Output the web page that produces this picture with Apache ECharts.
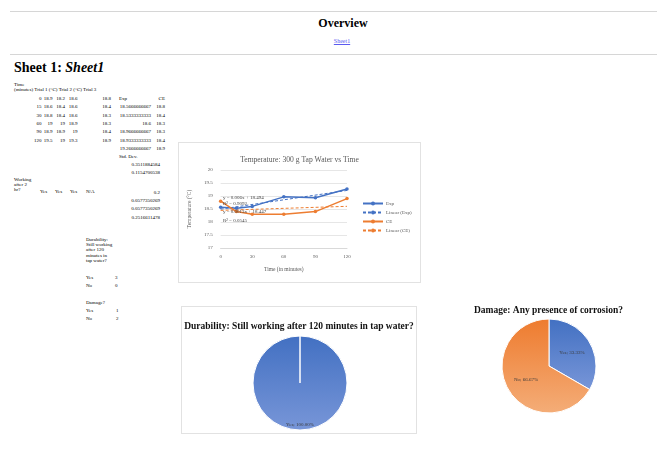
<!DOCTYPE html>
<html>
<head>
<meta charset="utf-8">
<title>Overview</title>
<script src="https://cdn.jsdelivr.net/npm/echarts@6/dist/echarts.min.js"></script>
<style>
  html, body { margin: 0; padding: 0; background: #fff; }
  body {
    width: 657px; height: 466px; position: relative; overflow: hidden;
    font-family: "Liberation Serif", "DejaVu Serif", serif; color: #000;
  }
  .rule { position: absolute; left: 10px; right: 0; height: 0; border-top: 1px solid #d6d6d6; }
  .heading { position: absolute; font-weight: bold; white-space: nowrap; }
  .t { position: absolute; font-size: 5px; line-height: 5px; white-space: nowrap; }
  .r { transform: translateX(-100%); }
  .wrap { position: absolute; font-size: 5px; line-height: 5.2px; white-space: normal; }
  .box { position: absolute; box-sizing: border-box; border: 1px solid #e2e2e2; background: #fff; }
  a.sheet { position: absolute; font-size: 6px; color: #5b5bf0; text-decoration: underline; transform: translateX(-50%); white-space: nowrap; }
</style>
</head>
<body>
<div class="rule" style="top:11px"></div>
<div class="heading" id="overview" style="left:343px; top:16px; font-size:12px; transform:translateX(-50%);"></div>
<a class="sheet" id="sheetLink" href="#sheet1" style="left:342px; top:38px;"></a>
<div class="rule" style="top:54px"></div>
<div class="heading" id="sheetTitle" style="left:14px; top:60px; font-size:14px;"></div>
<div id="sheet"></div>

<div class="box" id="lineBox" style="left:178px; top:142px; width:243px; height:141px;"></div>
<div class="box" id="pieDurability" style="left:181px; top:306px; width:236px; height:128px;"></div>
<div id="pieDamage" style="position:absolute; left:440px; top:290px; width:217px; height:150px;"></div>

<script>
// ---- worksheet data ----
const timeMin   = [0, 15, 30, 60, 90, 120];
const trial1    = [18.9, 18.6, 18.8, 19, 18.9, 19.5];
const trial2    = [18.2, 18.4, 18.4, 19, 18.9, 19];
const trial3    = [18.6, 18.6, 18.6, 18.9, 19, 19.3];
const ceTemp    = [18.8, 18.4, 18.3, 18.3, 18.4, 18.9];
const expMean   = [18.5666666667, 18.5333333333, 18.6, 18.9666666667, 18.9333333333, 19.2666666667];
const expStdDev = [0.3511884584, 0.1154700538, 0.2, 0.0577350269, 0.0577350269, 0.2516611478];
const working2h = ["Yes", "Yes", "Yes", "N/A"];

// trendline coefficients as printed on the chart
const expTrendSlope = 0.006,  expTrendIntercept = 18.494, expTrendR2 = 0.9092;
const ceTrendSlope  = 0.0013, ceTrendIntercept  = 18.447, ceTrendR2  = 0.0545;

// survey tallies
const durabilityCats = ["Yes", "No"];
const durabilityVals = [3, 0];
const damageCats     = ["Yes", "No"];
const damageVals     = [1, 2];

// axis ticks
const timeTicks = { min: 0, max: 120, step: 30 };
const tempTicks = { min: 17, max: 20, step: 0.5 };

// text
const lineTitle       = "Temperature: 300 g Tap Water vs Time";
const durabilityTitle = "Durability: Still working after 120 minutes in tap water?";
const damageTitle     = "Damage: Any presence of corrosion?";
const workingTitle    = "Working after 2 hr?";

// ---- page header ----
document.getElementById('overview').textContent = 'Overview';
document.getElementById('sheetLink').textContent = 'Sheet1';
document.getElementById('sheetTitle').innerHTML = 'Sheet 1: <i>Sheet1</i>';

// ---- worksheet cells ----
const sheet = document.getElementById('sheet');
function cell(text, x, y, right) {
  const d = document.createElement('div');
  d.className = 't' + (right ? ' r' : '');
  d.style.left = x + 'px';
  d.style.top = (y - 2.5) + 'px';
  d.textContent = String(text);
  sheet.appendChild(d);
}
function wrapCell(text, x, y, w) {
  const d = document.createElement('div');
  d.className = 'wrap';
  d.style.left = x + 'px';
  d.style.top = y + 'px';
  d.style.width = w + 'px';
  d.textContent = text;
  sheet.appendChild(d);
}

cell('Time', 14, 84);
cell('(minutes) Trial 1 (°C) Trial 2 (°C) Trial 3', 14, 89);

const rowY = [98, 106.5, 115, 123, 131.5, 140, 148];
timeMin.forEach((t, i) => {
  const y = rowY[i];
  cell(t, 41.5, y, true);
  cell(trial1[i], 52.5, y, true);
  cell(trial2[i], 65, y, true);
  cell(trial3[i], 77.5, y, true);
  cell(ceTemp[i], 111, y, true);
});

// chart source block
cell('Exp', 119, rowY[0]);
cell('CE', 165, rowY[0], true);
expMean.forEach((v, i) => {
  cell(v, 151, rowY[i + 1], true);
  cell(ceTemp[i], 165, rowY[i + 1], true);
});

cell('Std. Dev.', 119, 156);
const sdY = [164, 172.5, 192, 200, 208.5, 217];
expStdDev.forEach((v, i) => cell(v, 160, sdY[i], true));

wrapCell(workingTitle, 14, 177, 17);
const workX = [40, 55, 70, 86];
working2h.forEach((v, i) => cell(v, workX[i], 191));

wrapCell(durabilityTitle, 86, 237, 28);
durabilityCats.forEach((c, i) => {
  cell(c, 86, 277 + i * 8.3);
  cell(durabilityVals[i], 115, 277 + i * 8.3);
});
cell('Damage?', 86, 302);
damageCats.forEach((c, i) => {
  cell(c, 86, 310 + i * 8.3);
  cell(damageVals[i], 116, 310 + i * 8.3);
});

// ---- line chart ----
const SERIF = '"Liberation Serif", "DejaVu Serif", serif';
const GREY = '#595959';
const BLUE = '#4472C4';
const ORANGE = '#ED7D31';

const expPts = timeMin.map((t, i) => [t, expMean[i]]);
const cePts  = timeMin.map((t, i) => [t, ceTemp[i]]);
const trendEnds = [timeTicks.min, timeTicks.max];
const expTrendPts = trendEnds.map(x => [x, expTrendIntercept + expTrendSlope * x]);
const ceTrendPts  = trendEnds.map(x => [x, ceTrendIntercept + ceTrendSlope * x]);

const lineChart = echarts.init(document.getElementById('lineBox'));
const labelText = { fontFamily: SERIF, fontSize: 5, fill: '#404040' };
lineChart.setOption({
  animation: false,
  textStyle: { fontFamily: SERIF },
  title: {
    text: lineTitle, left: 'center', top: 8,
    textStyle: { fontFamily: SERIF, fontSize: 7.6, fontWeight: 'normal', color: GREY }
  },
  grid: { left: 39, top: 27, width: 129, height: 78 },
  xAxis: {
    type: 'value', min: timeTicks.min, max: timeTicks.max, interval: timeTicks.step,
    name: 'Time (in minutes)', nameLocation: 'middle', nameGap: 19,
    nameTextStyle: { fontFamily: SERIF, fontSize: 5.5, color: GREY },
    axisLine: { lineStyle: { color: '#d9d9d9', width: 1 } },
    axisTick: { show: false },
    axisLabel: { fontFamily: SERIF, fontSize: 5, color: GREY, margin: 6 },
    splitLine: { show: false }
  },
  yAxis: {
    type: 'value', min: tempTicks.min, max: tempTicks.max, interval: tempTicks.step,
    name: 'Temperature (°C)', nameLocation: 'middle', nameGap: 23,
    nameTextStyle: { fontFamily: SERIF, fontSize: 5.5, color: GREY },
    axisLine: { show: false }, axisTick: { show: false },
    axisLabel: { fontFamily: SERIF, fontSize: 5, color: GREY, margin: 8 },
    splitLine: { lineStyle: { color: '#e0e0e0', width: 0.8 } }
  },
  legend: {
    orient: 'vertical', left: 178, top: 53,
    itemWidth: 20, itemHeight: 5, itemGap: 4,
    textStyle: { fontFamily: SERIF, fontSize: 5, color: GREY, padding: [0, 0, 0, -2] },
    data: ['Exp', 'Linear (Exp)', 'CE', 'Linear (CE)']
  },
  series: [
    { name: 'Exp', type: 'line', data: expPts, color: BLUE,
      lineStyle: { width: 1.5, color: BLUE }, symbol: 'circle', symbolSize: 3.5,
      itemStyle: { color: BLUE }, z: 4 },
    { name: 'Linear (Exp)', type: 'line', data: expTrendPts, color: BLUE,
      lineStyle: { width: 1, color: BLUE, type: [3, 2] }, symbol: 'none', z: 3 },
    { name: 'CE', type: 'line', data: cePts, color: ORANGE,
      lineStyle: { width: 1.5, color: ORANGE }, symbol: 'circle', symbolSize: 3.5,
      itemStyle: { color: ORANGE }, z: 4 },
    { name: 'Linear (CE)', type: 'line', data: ceTrendPts, color: ORANGE,
      lineStyle: { width: 1, color: ORANGE, type: [3, 2] }, symbol: 'none', z: 3 }
  ],
  graphic: [
    { type: 'text', left: 44, top: 52, z: 10,
      style: Object.assign({ text: 'y = ' + expTrendSlope + 'x + ' + expTrendIntercept }, labelText) },
    { type: 'text', left: 44, top: 58, z: 10,
      style: Object.assign({ text: 'R² = ' + expTrendR2 }, labelText) },
    { type: 'text', left: 44, top: 66, z: 10,
      style: Object.assign({ text: 'y = ' + ceTrendSlope + 'x + ' + ceTrendIntercept }, labelText) },
    { type: 'text', left: 44, top: 75, z: 10,
      style: Object.assign({ text: 'R² = ' + ceTrendR2 }, labelText) }
  ]
});

// ---- pie charts ----
function grad(top, bottom) {
  return new echarts.graphic.LinearGradient(0, 0, 0, 1, [
    { offset: 0, color: top }, { offset: 1, color: bottom }
  ]);
}
const blueFill = grad('#4270c2', '#7896d8');
const orangeFill = grad('#ee7b2e', '#f4ad78');

function pieOption(title, titleTop, cats, vals, fills, center, labelDy) {
  return {
    animation: false,
    title: {
      text: title, left: 'center', top: titleTop,
      textStyle: { fontFamily: SERIF, fontSize: 9.5, fontWeight: 'bold', color: '#111' }
    },
    series: [{
      type: 'pie', center: center, radius: 47, startAngle: 90, clockwise: true,
      avoidLabelOverlap: false,
      itemStyle: { borderColor: '#fff', borderWidth: 1 },
      label: {
        position: 'inside', fontFamily: SERIF, fontSize: 5, color: '#3a3a3a',
        formatter: p => p.name + '; ' + p.percent.toFixed(2) + '%'
      },
      labelLine: { show: false },
      labelLayout: { dy: labelDy },
      emphasis: { disabled: true },
      data: cats.map((c, i) => ({
        name: c, value: vals[i],
        itemStyle: { color: fills[i] },
        label: { show: vals[i] > 0 }
      }))
    }]
  };
}

echarts.init(document.getElementById('pieDurability')).setOption(
  pieOption(durabilityTitle, 10, durabilityCats, durabilityVals, [blueFill, blueFill], [118, 76], 15)
);
echarts.init(document.getElementById('pieDamage')).setOption(
  pieOption(damageTitle, 11, damageCats, damageVals, [blueFill, orangeFill], [109, 76], 0)
);
</script>
</body>
</html>
